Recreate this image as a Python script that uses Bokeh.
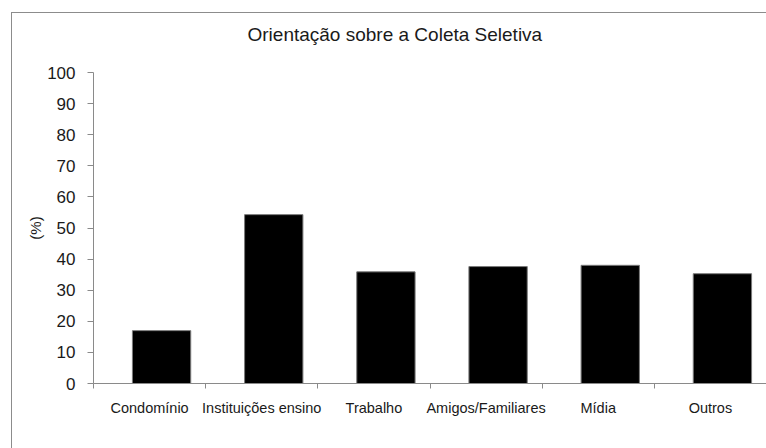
from bokeh.plotting import figure
from bokeh.models import FixedTicker, Range1d, Title
from bokeh.embed import file_html
from bokeh.resources import INLINE
import numpy as np

categories = ["Condomínio", "Instituições ensino", "Trabalho", "Amigos/Familiares", "Mídia", "Outros"]
values = [17.0, 54.3, 35.9, 37.6, 38.0, 35.3]
y_ticks = [0, 10, 20, 30, 40, 50, 60, 70, 80, 90, 100]
title_text = "Orientação sobre a Coleta Seletiva"
y_label = "(%)"

n = len(categories)
centers = np.arange(n) + 0.5

FONT = "Liberation Sans"
AXIS_COLOR = "#8a8a8a"
TEXT_COLOR = "#1a1a1a"

p = figure(width=755, height=436,
           x_range=Range1d(0, n), y_range=Range1d(0, 100),
           output_backend="svg", toolbar_location=None,
           min_border_left=81, min_border_right=1,
           min_border_top=59, min_border_bottom=66,
           title=title_text)
p.margin = (12, 0, 0, 11)
p.styles = {"border-left": "1px solid #8c8c8c", "border-top": "1px solid #8c8c8c"}

p.vbar(x=centers + 0.107, top=values, bottom=0, width=0.52,
       fill_color="black", line_color="#7a7a7a", line_width=1)

p.title.align = "left"
p.title.vertical_align = "bottom"
p.title.offset = 154
p.title.standoff = 2
p.title.text_font = FONT
p.title.text_font_size = "19px"
p.title.text_font_style = "normal"
p.title.text_color = TEXT_COLOR

# empty spacer between title and plot area
p.add_layout(Title(text=" ", text_font_size="10px", standoff=14), "above")

p.xgrid.grid_line_color = None
p.ygrid.grid_line_color = None
p.outline_line_color = None

xa = p.xaxis[0]
xa.ticker = FixedTicker(ticks=list(centers), minor_ticks=list(range(n + 1)))
xa.major_label_overrides = {float(c): cat for c, cat in zip(centers, categories)}
xa.major_tick_line_color = None
xa.major_tick_out = 0
xa.major_tick_in = 0
xa.minor_tick_line_color = AXIS_COLOR
xa.minor_tick_out = 5
xa.minor_tick_in = 0
xa.axis_line_color = AXIS_COLOR
xa.major_label_standoff = 11
xa.major_label_text_font = FONT
xa.major_label_text_font_size = "14.5px"
xa.major_label_text_color = TEXT_COLOR

ya = p.yaxis[0]
ya.ticker = FixedTicker(ticks=y_ticks)
ya.minor_tick_line_color = None
ya.major_tick_out = 6
ya.major_tick_in = 0
ya.major_tick_line_color = AXIS_COLOR
ya.axis_line_color = AXIS_COLOR
ya.major_label_standoff = 12
ya.major_label_text_font = FONT
ya.major_label_text_font_size = "17px"
ya.major_label_text_color = TEXT_COLOR
ya.axis_label = y_label
ya.axis_label_text_font = FONT
ya.axis_label_text_font_size = "15px"
ya.axis_label_text_font_style = "normal"
ya.axis_label_text_color = TEXT_COLOR
ya.axis_label_standoff = 0

open("out.html", "w").write(file_html(p, INLINE))
